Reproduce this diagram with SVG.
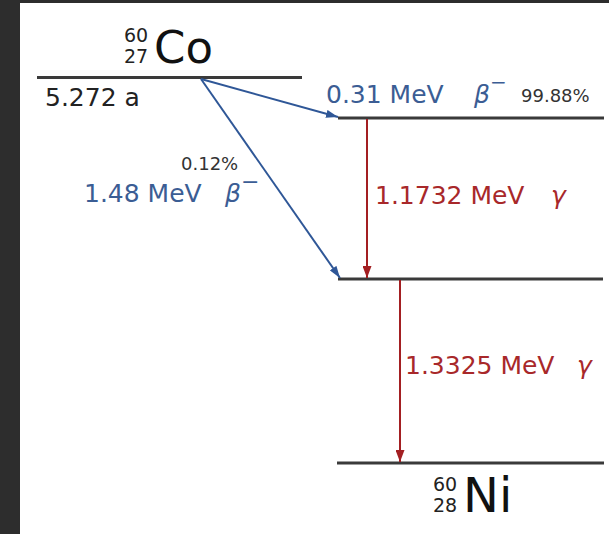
<svg xmlns="http://www.w3.org/2000/svg" width="609" height="534" viewBox="0 0 609 534">
<style>
.t{font-family:"DejaVu Sans","Liberation Sans",sans-serif}
.lvl{stroke:#3a3a3a;stroke-width:3;fill:none}
.blue{fill:#3b5d94}
.red{fill:#a8282a}
.gray{fill:#333333}
.ab{stroke:#2f5797;stroke-width:2;fill:none}
.ar{stroke:#a31f22;stroke-width:2;fill:none}
.it{font-style:italic}
.sc{font-size:19px;fill:#222}
</style>
<defs>
<marker id="mb" viewBox="0 0 12 8" refX="12" refY="4" markerWidth="12" markerHeight="8" markerUnits="userSpaceOnUse" orient="auto"><path d="M0,0 L12,4 L0,8 Z" fill="#2f5797"/></marker>
<marker id="mr" viewBox="0 0 12 9" refX="12" refY="4.5" markerWidth="12" markerHeight="9" markerUnits="userSpaceOnUse" orient="auto"><path d="M0,0 L12,4.5 L0,9 Z" fill="#a31f22"/></marker>
</defs>
<rect x="0" y="0" width="609" height="534" fill="#ffffff"/>
<rect x="0" y="0" width="20" height="534" fill="#2d2d2d"/>
<rect x="0" y="0" width="609" height="3" fill="#2d2d2d"/>

<g id="co60">
<line class="lvl" x1="37" y1="77.5" x2="302" y2="77.5"/>
<text class="t sc" x="124" y="42">60</text>
<text class="t sc" x="124" y="62.5">27</text>
<text class="t" x="154" y="62.5" font-size="45" fill="#111">Co</text>
<text class="t" x="45" y="106" font-size="25" fill="#222">5.272 a</text>
</g>

<g id="level1">
<line class="lvl" x1="338" y1="118" x2="604" y2="118"/>
</g>

<g id="level2">
<line class="lvl" x1="338" y1="279" x2="603" y2="279"/>
</g>

<g id="ni60">
<line class="lvl" x1="337" y1="463" x2="604" y2="463"/>
<text class="t sc" x="433" y="490.5">60</text>
<text class="t sc" x="433" y="511.5">28</text>
<text class="t" x="463" y="511.5" font-size="48" fill="#111">Ni</text>
</g>

<g id="connectors">
<line class="ab" x1="201" y1="79" x2="338" y2="117" marker-end="url(#mb)"/>
<line class="ab" x1="201" y1="79" x2="340" y2="278" marker-end="url(#mb)"/>
<line class="ar" x1="367" y1="119" x2="367" y2="278" marker-end="url(#mr)"/>
<line class="ar" x1="400" y1="280" x2="400" y2="462" marker-end="url(#mr)"/>
</g>

<g id="labels">
<text class="t blue" x="326" y="103" font-size="25">0.31 MeV</text>
<text class="t blue it" x="474" y="103" font-size="25">β<tspan font-style="normal" font-size="20" dy="-14">−</tspan></text>
<text class="t gray" x="521" y="102" font-size="18">99.88%</text>
<text class="t gray" x="181" y="170" font-size="18">0.12%</text>
<text class="t blue" x="84" y="202" font-size="25">1.48 MeV</text>
<text class="t blue it" x="225" y="202" font-size="25">β<tspan font-style="normal" font-size="22" dy="-13">−</tspan></text>
<text class="t red" x="375" y="204" font-size="25">1.1732 MeV</text>
<text class="t red it" x="551" y="204" font-size="25">γ</text>
<text class="t red" x="405" y="374" font-size="25">1.3325 MeV</text>
<text class="t red it" x="577" y="374" font-size="25">γ</text>
</g>
</svg>
